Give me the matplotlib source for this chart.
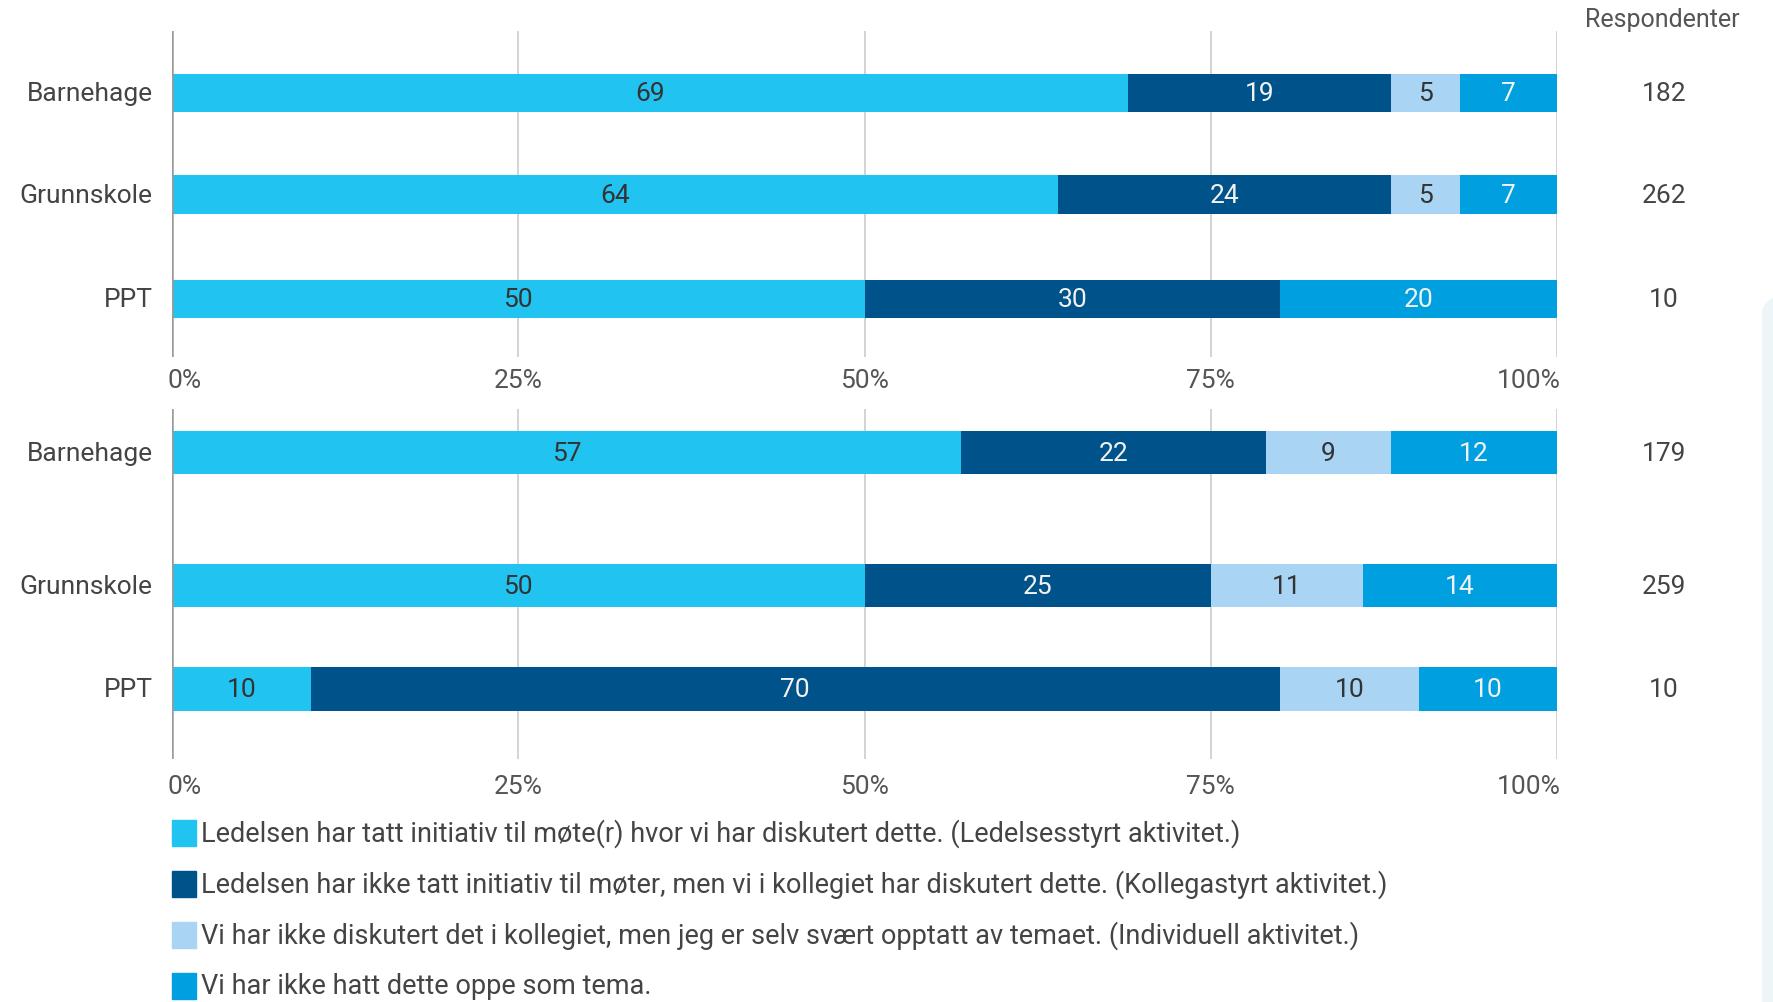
import matplotlib.pyplot as plt
from matplotlib.patches import Rectangle, FancyBboxPatch
import numpy as np

plt.rcParams['font.family'] = ['Roboto', 'DejaVu Sans']

categories = ['Barnehage', 'Grunnskole', 'PPT']
series_names = [
    'Ledelsen har tatt initiativ til møte(r) hvor vi har diskutert dette. (Ledelsesstyrt aktivitet.)',
    'Ledelsen har ikke tatt initiativ til møter, men vi i kollegiet har diskutert dette. (Kollegastyrt aktivitet.)',
    'Vi har ikke diskutert det i kollegiet, men jeg er selv svært opptatt av temaet. (Individuell aktivitet.)',
    'Vi har ikke hatt dette oppe som tema.',
]
colors = ['#21c3f1', '#00538a', '#a9d4f3', '#009fdf']
text_colors = ['#333333', '#f2f2f2', '#333333', '#f2f2f2']

# top panel: values per series, rows = categories
top_vals = [
    [69, 64, 50],
    [19, 24, 30],
    [5, 5, 0],
    [7, 7, 20],
]
top_resp = [182, 262, 10]

bottom_vals = [
    [57, 50, 10],
    [22, 25, 70],
    [9, 11, 10],
    [12, 14, 10],
]
bottom_resp = [179, 259, 10]

ticks = [0, 25, 50, 75, 100]
tick_labels = ['0%', '25%', '50%', '75%', '100%']

W, H = 1773, 1003
fig = plt.figure(figsize=(W / 100, H / 100), dpi=100)
fig.patch.set_facecolor('white')

FS = 19
GRAY = '#555555'

# faint slide decoration on the right edge
fig.patches.append(FancyBboxPatch((1762 / W, -0.05), 0.05, 1 - 295 / H + 0.05,
                                  boxstyle='round,pad=0,rounding_size=0.02',
                                  transform=fig.transFigure, color='#eef5f8',
                                  lw=0, zorder=0))


def px_axes(x0, y0, x1, y1):
    return fig.add_axes([x0 / W, 1 - y1 / H, (x1 - x0) / W, (y1 - y0) / H])


def panel(ax, vals, resp, pos, ylim, height, tick_y):
    ax.set_xlim(0, 100)
    ax.set_ylim(*ylim)
    ax.axis('off')
    for t in ticks[1:]:
        ax.axvline(t, color='#cccccc', lw=1.2, zorder=0)
    ax.axvline(0, color='#9a9a9a', lw=1.8, zorder=3)
    left = np.zeros(len(categories))
    for i, v in enumerate(vals):
        v = np.array(v, dtype=float)
        ax.barh(pos, v, left=left, height=height, color=colors[i],
                edgecolor='none', zorder=2)
        for y, l, w in zip(pos, left, v):
            if w > 0:
                ax.text(l + w / 2, y, f'{int(w)}', ha='center', va='center',
                        fontsize=FS, color=text_colors[i], zorder=4)
        left += v
    for y, c, r in zip(pos, categories, resp):
        ax.text(-1.4, y, c, ha='right', va='center', fontsize=FS, color='#444444')
        ax.text(107.7, y, str(r), ha='center', va='center', fontsize=FS, color='#444444')
    for t, lab in zip(ticks, tick_labels):
        ha = 'left' if t == 0 else ('right' if t == 100 else 'center')
        xt = -0.3 if t == 0 else (100.3 if t == 100 else t)
        fig.text(ax.transData.transform((xt, 0))[0] / W, 1 - tick_y / H, lab,
                 ha=ha, va='center', fontsize=FS, color=GRAY)


top_pos = [0, 1, 2.03]
ax1 = px_axes(172, 32, 1557, 358)
panel(ax1, top_vals, top_resp, top_pos, (2.6, -0.61), 0.375, 381)

bottom_pos = [0, 1.125, 2.0]
ax2 = px_axes(172, 410, 1557, 760)
panel(ax2, bottom_vals, bottom_resp, bottom_pos, (2.592, -0.368), 0.364, 787)

fig.text(1662 / W, 1 - 20 / H, 'Respondenter', ha='center', va='center',
         fontsize=FS - 1, color=GRAY)

# legend
leg_y = [834, 885, 936, 987]
for name, col, y in zip(series_names, colors, leg_y):
    fig.patches.append(Rectangle((172 / W, 1 - (y + 13) / H), 24 / W, 26 / H,
                                 transform=fig.transFigure, color=col))
    fig.text(201 / W, 1 - y / H, name, ha='left', va='center',
             fontsize=FS + 0.5, color='#444444')

fig.savefig('out.png', dpi=100)
